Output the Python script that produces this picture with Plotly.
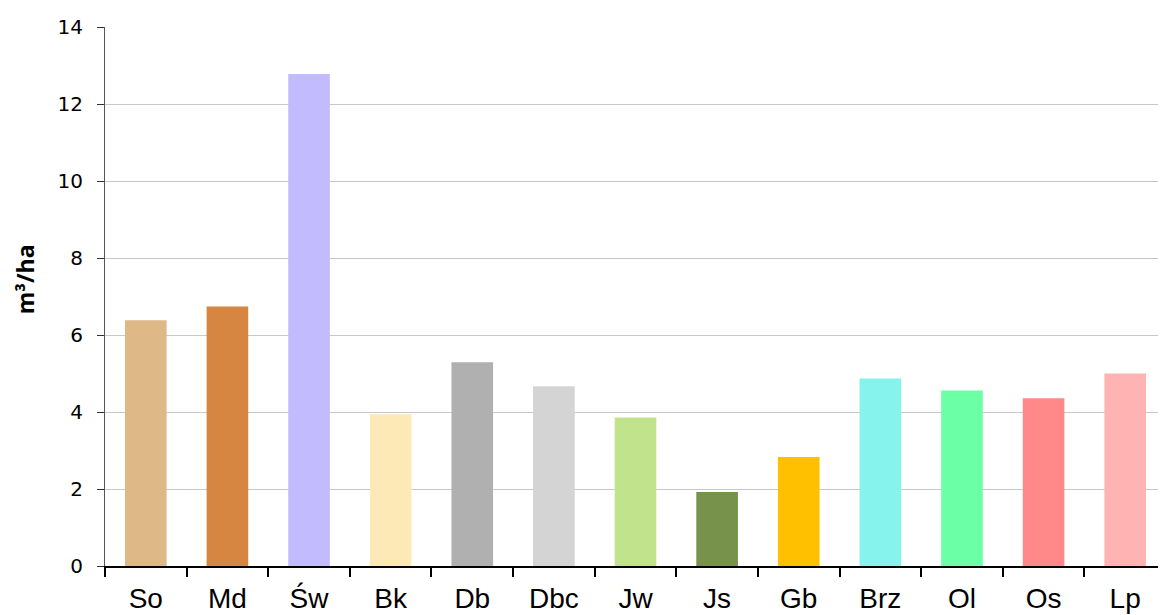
import plotly.graph_objects as go

categories = ["So", "Md", "Św", "Bk", "Db", "Dbc", "Jw", "Js", "Gb", "Brz", "Ol", "Os", "Lp"]
values = [6.38, 6.74, 12.78, 3.94, 5.29, 4.67, 3.86, 1.92, 2.83, 4.87, 4.56, 4.36, 5.00]
colors = ["#DEB887", "#D68641", "#C2BBFE", "#FDE9B5", "#B0B0B0", "#D4D4D4", "#C0E38C",
          "#77924A", "#FFC000", "#87F3ED", "#6BFFA6", "#FF8888", "#FFB3B3"]
y_ticks = [0, 2, 4, 6, 8, 10, 12, 14]

fig = go.Figure(go.Bar(x=categories, y=values, marker=dict(color=colors, line=dict(width=0))))

fig.update_layout(
    width=1158, height=607,
    margin=dict(l=97, r=0, t=19, b=49),
    plot_bgcolor="white", paper_bgcolor="white",
    bargap=0.49,
    showlegend=False,
    font=dict(family="DejaVu Sans", color="black"),
)
fig.add_annotation(
    text="<b>m³/ha</b>", xref="paper", yref="paper", x=-0.0754, y=0.532,
    xanchor="center", yanchor="middle", textangle=-90, showarrow=False,
    font=dict(family="Open Sans", size=23, color="black"),
)
fig.update_xaxes(
    showline=True, linecolor="black", linewidth=2,
    ticks="outside", tickson="boundaries", ticklen=9, tickwidth=2, tickcolor="black",
    tickfont=dict(family="Liberation Sans", size=28, color="black"),
    ticklabelstandoff=6,
)
fig.update_yaxes(
    range=[0, 14], tickvals=y_ticks, showgrid=True, gridcolor="#C8C8C8", gridwidth=1,
    showline=True, linecolor="#555555", linewidth=1,
    ticks="outside", ticklen=7, tickcolor="#333333",
    tickfont=dict(family="DejaVu Sans", size=20, color="black"),
    ticklabelstandoff=10,
    zeroline=False,
)

fig.write_html("out.html")
